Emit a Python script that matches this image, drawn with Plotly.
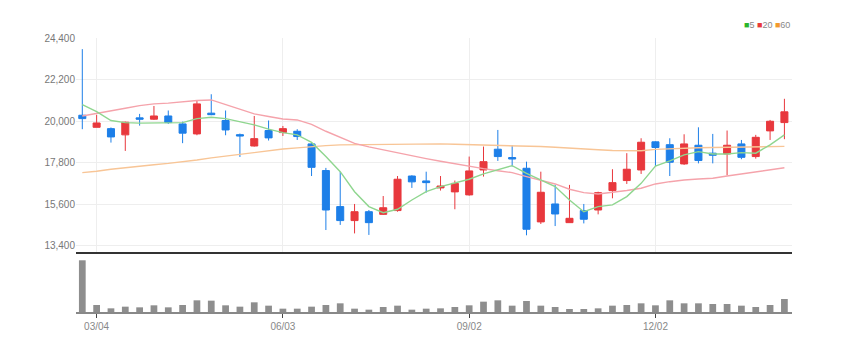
import plotly.graph_objects as go

# Weekly candles
dates = ["2024-02-26", "2024-03-04", "2024-03-11", "2024-03-18", "2024-03-25",
         "2024-04-01", "2024-04-08", "2024-04-15", "2024-04-22", "2024-04-29",
         "2024-05-06", "2024-05-13", "2024-05-20", "2024-05-27", "2024-06-03",
         "2024-06-10", "2024-06-17", "2024-06-24", "2024-07-01", "2024-07-08",
         "2024-07-15", "2024-07-22", "2024-07-29", "2024-08-05", "2024-08-12",
         "2024-08-19", "2024-08-26", "2024-09-02", "2024-09-09", "2024-09-16",
         "2024-09-23", "2024-09-30", "2024-10-07", "2024-10-14", "2024-10-21",
         "2024-10-28", "2024-11-04", "2024-11-11", "2024-11-18", "2024-11-25",
         "2024-12-02", "2024-12-09", "2024-12-16", "2024-12-23", "2024-12-30",
         "2025-01-06", "2025-01-13", "2025-01-20", "2025-01-27", "2025-02-03"]

open_ = [20310, 19670, 19600, 19270, 20170, 20100, 20270, 19850, 19320, 20420,
         20030, 19280, 18680, 19500, 19390, 19460, 18790, 17380, 15470, 14730,
         15200, 15060, 15260, 17090, 16830, 16460, 16250, 16090, 17410, 18510,
         18070, 17500, 14660, 15610, 14620, 15260, 15290, 16320, 16850, 17410,
         18900, 18750, 17730, 18720, 18300, 18260, 18790, 18120, 19480, 19920]
high = [23810, 20330, 19660, 19970, 20380, 20800, 20560, 19970, 21090, 21420,
        20560, 19340, 20270, 20030, 19740, 19570, 18860, 17520, 17320, 15610,
        15290, 16030, 17090, 17130, 17320, 17090, 16850, 18120, 18650, 19530,
        18720, 17850, 17320, 16620, 16620, 15610, 16260, 17450, 18300, 19090,
        18930, 19090, 19300, 19670, 19320, 19500, 19000, 19270, 20060, 21180]
low = [19570, 19670, 18860, 18420, 19760, 20060, 19850, 18830, 19250, 20310,
       19250, 18100, 18650, 18970, 19210, 19000, 17090, 14230, 14500, 14050,
       13970, 15030, 15200, 16460, 16210, 16320, 15330, 16050, 17060, 17890,
       17590, 13950, 14550, 14440, 14620, 14580, 15060, 15910, 16670, 17200,
       17620, 17090, 17680, 17760, 17760, 17130, 17980, 18010, 19000, 19040]
close = [20130, 19900, 19160, 19940, 20100, 20270, 19920, 19360, 20910, 20340,
         19530, 19210, 19070, 19110, 19600, 19180, 17550, 15290, 14730, 15200,
         14620, 15410, 16920, 16780, 16740, 16560, 16700, 17360, 17850, 18120,
         17990, 14270, 16230, 15080, 14850, 14800, 16210, 16740, 17450, 18880,
         18600, 17820, 18790, 17910, 18190, 18720, 18080, 19140, 19990, 20490]

ma5 = [20870, 20500, 20030, 19920, 19890, 19890, 19900, 19920, 20130, 20200,
       20130, 19970, 19800, 19570, 19390, 19270, 18870, 18120, 17320, 16260,
       15470, 15150, 15330, 15820, 16260, 16530, 16710, 16920, 17200, 17410,
       17640, 17230, 16880, 16530, 15820, 15200, 15470, 15560, 16000, 16700,
       17620, 17890, 18210, 18380, 18260, 18260, 18330, 18300, 18740, 19270]
ma20 = [20270, 20420, 20560, 20680, 20820, 20910, 20950, 21030, 21090, 21120,
        20870, 20630, 20380, 20240, 20110, 20060, 19830, 19460, 19130, 18820,
        18630, 18470, 18300, 18160, 18010, 17870, 17730, 17590, 17480, 17370,
        17270, 17060, 16850, 16670, 16390, 16210, 16140, 16210, 16320, 16440,
        16670, 16790, 16880, 16930, 16970, 17090, 17200, 17320, 17410, 17530]
ma60 = [17270, 17340, 17450, 17540, 17620, 17690, 17760, 17840, 17940, 18050,
        18150, 18220, 18330, 18440, 18520, 18580, 18650, 18700, 18740, 18750,
        18770, 18790, 18790, 18790, 18790, 18790, 18770, 18750, 18740, 18740,
        18700, 18680, 18650, 18610, 18580, 18540, 18480, 18440, 18420, 18430,
        18500, 18540, 18570, 18590, 18600, 18610, 18610, 18620, 18630, 18660]

volume = [1550000, 210000, 110000, 160000, 140000, 200000, 140000, 210000, 350000, 340000,
          200000, 160000, 290000, 190000, 100000, 100000, 160000, 210000, 260000, 100000,
          70000, 150000, 190000, 70000, 100000, 110000, 150000, 200000, 310000, 350000,
          190000, 330000, 190000, 150000, 90000, 90000, 110000, 190000, 210000, 260000,
          200000, 350000, 260000, 260000, 240000, 240000, 190000, 150000, 210000, 390000]

tick_dates = ["2024-03-04", "2024-06-03", "2024-09-02", "2024-12-02"]
tick_labels = ["03/04", "06/03", "09/02", "12/02"]
price_ticks = [13400, 15600, 17800, 20000, 22200, 24400]

RED = "#e8383d"
BLUE = "#1d7fe8"
FONT = "Liberation Sans Narrow, Arial Narrow, Liberation Sans, sans-serif"

fig = go.Figure()
fig.add_trace(go.Scatter(x=dates, y=ma60, mode="lines", line=dict(color="#f8c596", width=1.4),
                         xaxis="x", yaxis="y", hoverinfo="skip"))
fig.add_trace(go.Scatter(x=dates, y=ma20, mode="lines", line=dict(color="#f5a3ab", width=1.4),
                         xaxis="x", yaxis="y", hoverinfo="skip"))
fig.add_trace(go.Scatter(x=dates, y=ma5, mode="lines", line=dict(color="#8fd68f", width=1.4),
                         xaxis="x", yaxis="y", hoverinfo="skip"))
fig.add_trace(go.Candlestick(
    x=dates, open=open_, high=high, low=low, close=close,
    increasing=dict(line=dict(color=RED, width=1), fillcolor=RED),
    decreasing=dict(line=dict(color=BLUE, width=1), fillcolor=BLUE),
    whiskerwidth=0, xaxis="x", yaxis="y"))
fig.add_trace(go.Bar(x=dates, y=volume, marker=dict(color="#8e8e8e", line=dict(width=0)),
                     width=0.47, xaxis="x2", yaxis="y2"))

xr = [-0.44, 49.53]
fig.update_layout(
    width=845, height=351,
    margin=dict(l=76, r=53, t=38, b=39),
    paper_bgcolor="white", plot_bgcolor="white",
    showlegend=False,
    boxgap=0.3, boxgroupgap=0.3,
    xaxis=dict(type="category", range=xr, domain=[0, 1], anchor="y",
               rangeslider=dict(visible=False),
               tickvals=tick_dates, ticktext=tick_labels, showticklabels=False,
               showgrid=True, gridcolor="#eeeeee", gridwidth=1,
               showline=True, linecolor="#333333", linewidth=2, ticks="",
               zeroline=False),
    yaxis=dict(domain=[0.219, 1], range=[13066, 24400], anchor="x",
               tickvals=price_ticks, tickformat=",", showgrid=True,
               gridcolor="#eeeeee", gridwidth=1, zeroline=False, ticks="",
               tickfont=dict(family=FONT, size=10, color="#777777")),
    xaxis2=dict(type="category", range=xr, domain=[0, 1], anchor="y2",
                tickvals=tick_dates, ticktext=tick_labels,
                ticks="outside", ticklen=4, tickcolor="#444444", tickwidth=1,
                showline=True, linecolor="#888888", linewidth=2,
                showgrid=False, zeroline=False,
                tickfont=dict(family=FONT, size=10, color="#888888")),
    yaxis2=dict(domain=[0, 0.2117], range=[0, 1739000], anchor="x2",
                showticklabels=False, showgrid=False, zeroline=False, ticks=""),
    annotations=[dict(
        xref="paper", yref="paper", x=1.0, y=1.047, xanchor="right", yanchor="middle",
        showarrow=False,
        text=("<span style='color:#2bb52b'>■</span>5 "
              "<span style='color:#e83a3a'>■</span>20 "
              "<span style='color:#f29a2e'>■</span>60"),
        font=dict(family=FONT, size=9, color="#888888"))],
)

fig.write_html("out.html")
